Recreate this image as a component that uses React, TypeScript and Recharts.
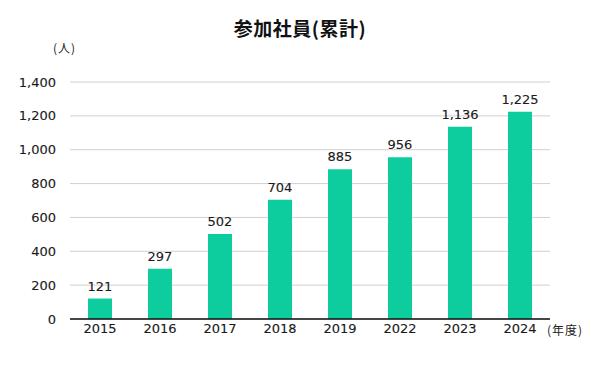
import { BarChart, Bar, XAxis, YAxis, CartesianGrid, LabelList } from "recharts";

const years = ["2015", "2016", "2017", "2018", "2019", "2022", "2023", "2024"];
const members = [121, 297, 502, 704, 885, 956, 1136, 1225];
const yTicks = [0, 200, 400, 600, 800, 1000, 1200, 1400];

const data = years.map((year, i) => ({ year, members: members[i] }));

const font = "'DejaVu Sans', 'Noto Sans CJK JP', sans-serif";
const cjk = "'Noto Sans CJK JP', sans-serif";
const fmt = (v: number) => v.toLocaleString("en-US");

export default function App() {
  return (
    <div style={{ position: "absolute", left: 0, top: 0, width: 600, height: 365, background: "#fff", fontFamily: font }}>
      <div
        style={{
          position: "absolute",
          top: 14,
          left: 0,
          width: 600,
          textAlign: "center",
          fontSize: 19,
          fontWeight: "bold",
          color: "#111",
          fontFamily: cjk,
          letterSpacing: 0.5,
        }}
      >
        参加社員(累計)
      </div>
      <div style={{ position: "absolute", top: 39, left: 53, fontSize: 12, color: "#222", fontFamily: cjk, letterSpacing: 1 }}>
        (人)
      </div>
      <div style={{ position: "absolute", top: 321, left: 547, fontSize: 12, color: "#222", fontFamily: cjk, letterSpacing: 1 }}>
        (年度)
      </div>
      <BarChart
        width={600}
        height={365}
        data={data}
        margin={{ top: 82, right: 50, left: 10, bottom: 16 }}
        barSize={24}
      >
        <CartesianGrid vertical={false} stroke="#d0d0d0" />
        <XAxis
          dataKey="year"
          tickLine={false}
          axisLine={{ stroke: "#111", strokeWidth: 1.5 }}
          tick={{ fill: "#1a1a1a", fontSize: 13, fontFamily: font, stroke: "#1a1a1a", strokeWidth: 0.12 }}
          tickSize={0}
          tickMargin={5}
          height={30}
        />
        <YAxis
          domain={[0, 1400]}
          ticks={yTicks}
          tickFormatter={fmt}
          axisLine={false}
          tickLine={false}
          tick={{ fill: "#1a1a1a", fontSize: 13, fontFamily: font, stroke: "#1a1a1a", strokeWidth: 0.12 }}
          tickMargin={8}
          width={60}
        />
        <Bar dataKey="members" fill="#0dcc9e" isAnimationActive={false}>
          <LabelList
            dataKey="members"
            position="top"
            formatter={(v: any) => fmt(Number(v))}
            fill="#1a1a1a"
            stroke="#1a1a1a"
            strokeWidth={0.12}
            fontSize={13}
            fontFamily={font}
            offset={8}
          />
        </Bar>
      </BarChart>
    </div>
  );
}
